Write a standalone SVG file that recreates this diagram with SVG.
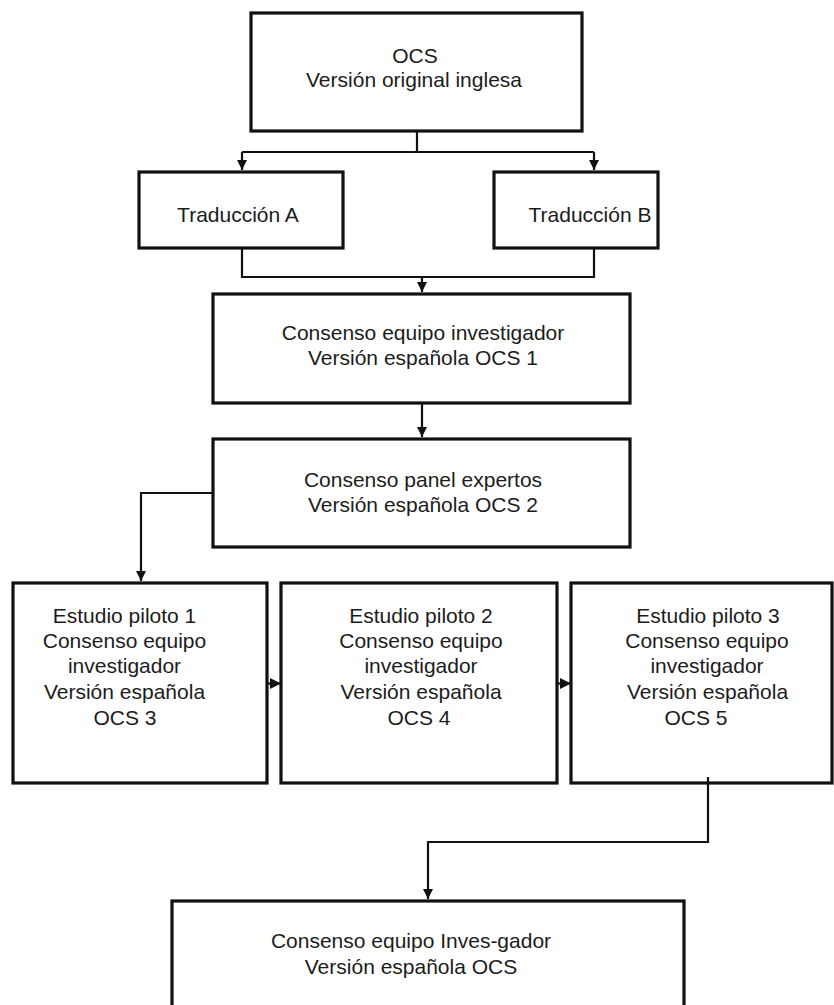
<svg xmlns="http://www.w3.org/2000/svg" width="834" height="1005" viewBox="0 0 834 1005">
<style>
.box{fill:#fff;stroke:#111;stroke-width:3.2}
.lbl{font-family:"Liberation Sans",Arial,sans-serif;font-size:21px;fill:#1c1c1c;text-anchor:middle}
.con{fill:none;stroke:#111;stroke-width:2.2}
</style>
<defs>
<marker id="arr" markerUnits="userSpaceOnUse" markerWidth="12" markerHeight="12" refX="10" refY="5" orient="auto">
<path d="M0,0 L10,5 L0,10 z" fill="#111"/>
</marker>
<marker id="arrs" markerUnits="userSpaceOnUse" markerWidth="12" markerHeight="12" refX="11" refY="5.5" orient="auto">
<path d="M0,0 L11,5.5 L0,11 z" fill="#111"/>
</marker>
</defs>
<rect width="834" height="1005" fill="#fff"/>
<g id="n-ocs"><rect class="box" x="251" y="13" width="331" height="118"/>
<text class="lbl" x="415" y="63">OCS</text><text class="lbl" x="414" y="87">Versión original inglesa</text></g>
<g id="n-tradA"><rect class="box" x="139" y="172" width="204" height="76"/>
<text class="lbl" x="238" y="222">Traducción A</text></g>
<g id="n-tradB"><rect class="box" x="494" y="172" width="164" height="76"/>
<text class="lbl" x="590" y="222">Traducción B</text></g>
<g id="n-cons1"><rect class="box" x="213" y="294" width="417" height="109"/>
<text class="lbl" x="423" y="340">Consenso equipo investigador</text><text class="lbl" x="423" y="365">Versión española OCS 1</text></g>
<g id="n-cons2"><rect class="box" x="213" y="439" width="417" height="108"/>
<text class="lbl" x="423" y="487">Consenso panel expertos</text><text class="lbl" x="423" y="512">Versión española OCS 2</text></g>
<g id="n-p1"><rect class="box" x="13" y="583" width="254" height="200"/>
<text class="lbl" x="124.5" y="623">Estudio piloto 1</text><text class="lbl" x="124.5" y="648">Consenso equipo</text><text class="lbl" x="124.5" y="673">investigador</text><text class="lbl" x="124.5" y="699">Versión española</text><text class="lbl" x="125" y="725">OCS 3</text></g>
<g id="n-p2"><rect class="box" x="281" y="583" width="276" height="200"/>
<text class="lbl" x="421" y="623">Estudio piloto 2</text><text class="lbl" x="421" y="648">Consenso equipo</text><text class="lbl" x="421" y="673">investigador</text><text class="lbl" x="421" y="699">Versión española</text><text class="lbl" x="419" y="725">OCS 4</text></g>
<g id="n-p3"><rect class="box" x="571" y="583" width="261" height="200"/>
<text class="lbl" x="708" y="623">Estudio piloto 3</text><text class="lbl" x="707" y="648">Consenso equipo</text><text class="lbl" x="707" y="673">investigador</text><text class="lbl" x="707.5" y="699">Versión española</text><text class="lbl" x="696" y="725">OCS 5</text></g>
<g id="n-final"><rect class="box" x="172" y="901" width="512" height="130"/>
<text class="lbl" x="411" y="948">Consenso equipo Inves-gador</text><text class="lbl" x="411" y="974">Versión española OCS</text></g>
<g id="connectors">
<path class="con" d="M417,131 V152 M242,152 H594"/>
<path class="con" d="M242,152 V170" marker-end="url(#arr)"/>
<path class="con" d="M594,152 V170" marker-end="url(#arr)"/>
<path class="con" d="M242,248 V277 H594 V248"/>
<path class="con" d="M422,277 V292" marker-end="url(#arr)"/>
<path class="con" d="M422,403 V437" marker-end="url(#arr)"/>
<path class="con" d="M213,493 H141 V581" marker-end="url(#arr)"/>
<path class="con" d="M708,777 V842 H428 V899" marker-end="url(#arr)"/>
<path class="con" d="M267,683.5 H281" marker-end="url(#arrs)"/>
<path class="con" d="M557,683.5 H571" marker-end="url(#arrs)"/>
</g>
</svg>
